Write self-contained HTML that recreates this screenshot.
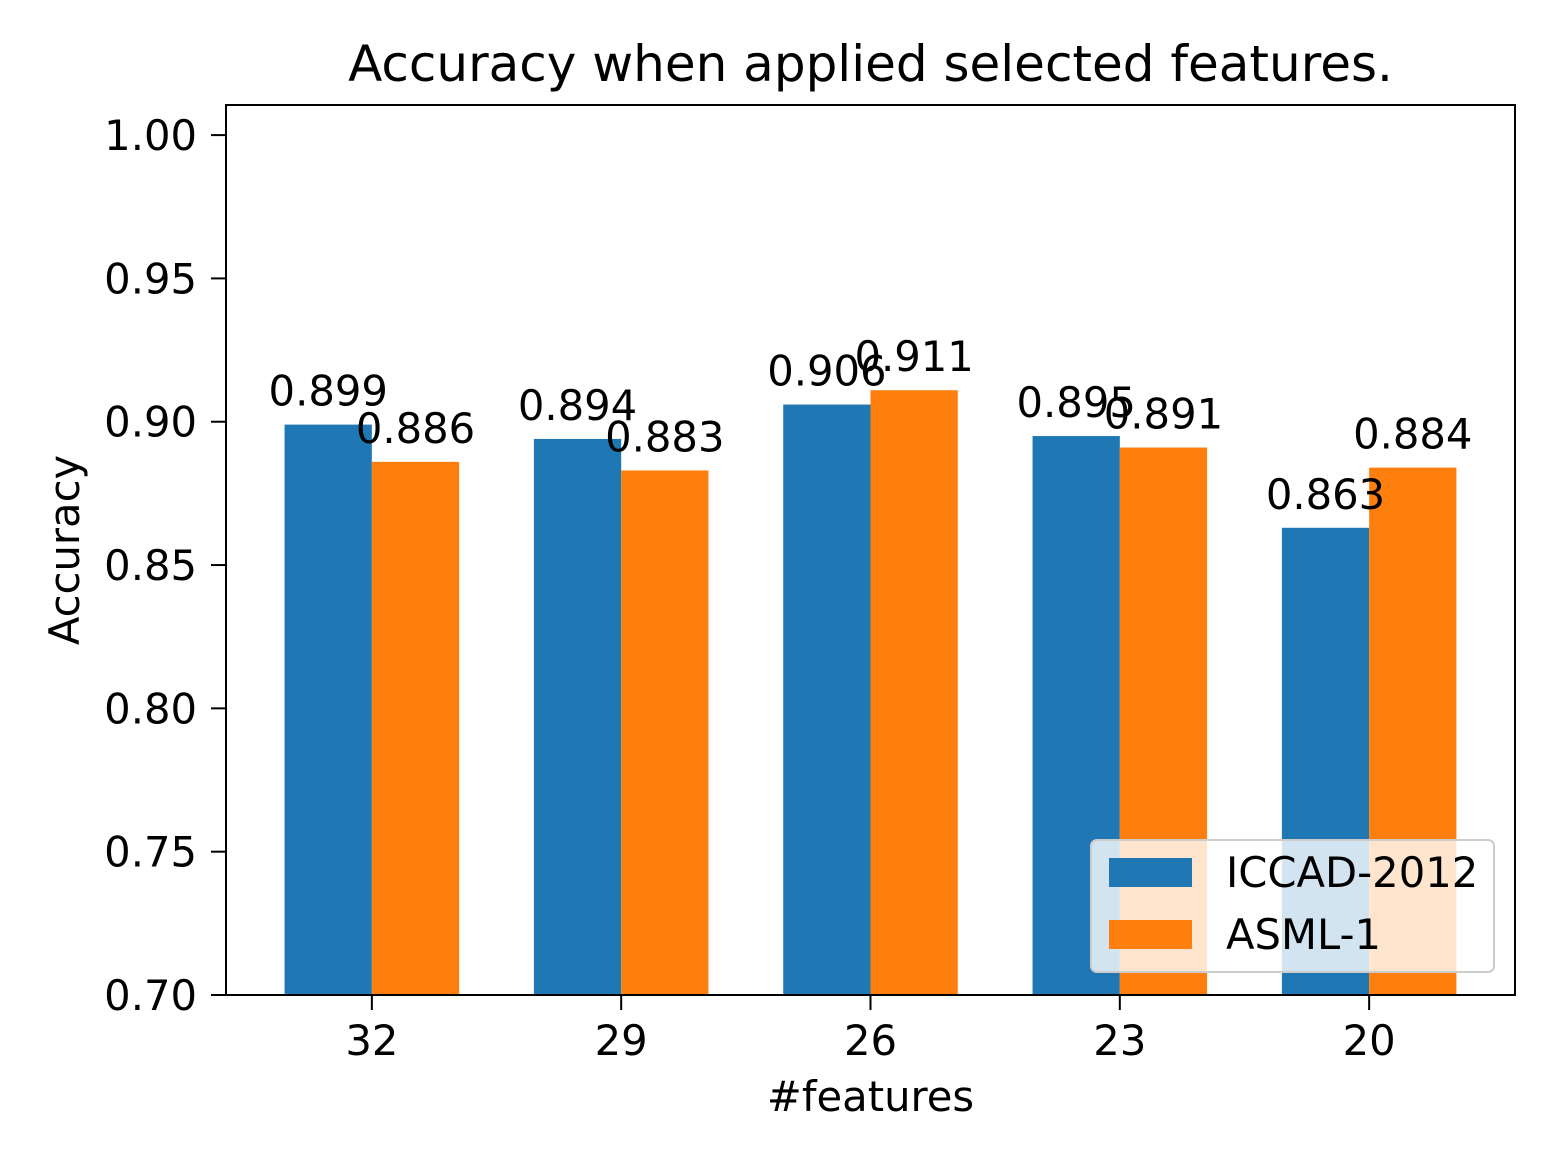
<!DOCTYPE html>
<html><head><meta charset="utf-8"><style>body{margin:0;background:#fff}svg{display:block;font-family:"DejaVu Sans","Liberation Sans",sans-serif}</style></head>
<body>
<svg id="chart" width="1560" height="1170" viewBox="0 0 1560 1170"></svg>
<script>
const categories=["32","29","26","23","20"];
const iccad=[0.899,0.894,0.906,0.895,0.863];
const asml=[0.886,0.883,0.911,0.891,0.884];
const yTicks=[0.70,0.75,0.80,0.85,0.90,0.95,1.00];
const yTickLabels=["0.70","0.75","0.80","0.85","0.90","0.95","1.00"];
const seriesNames=["ICCAD-2012","ASML-1"];
const L=226,R=1515,T=105,B=995;
const ymin=0.70,ymax=1.0105,xmin=-0.585,xmax=4.585;
const FS=41.7;
const sx=v=>L+(v-xmin)/(xmax-xmin)*(R-L);
const sy=v=>B-(v-ymin)/(ymax-ymin)*(B-T);
const svg=document.getElementById('chart');
const NS="http://www.w3.org/2000/svg";
function mk(tag,attrs,txt){const e=document.createElementNS(NS,tag);for(const k in attrs)e.setAttribute(k,attrs[k]);if(txt!==undefined)e.textContent=txt;svg.appendChild(e);return e;}
const w=0.35;
const colors=["#1f77b4","#ff7f0e"];
[iccad,asml].forEach((arr,s)=>{
  arr.forEach((v,i)=>{
    const x0=sx(i+(s===0?-w:0)),x1=sx(i+(s===0?0:w));
    const r=mk('rect',{x:x0,y:sy(v),width:x1-x0,height:B-sy(v),fill:colors[s]});
    
    
  });
});
[iccad,asml].forEach((arr,s)=>{
  arr.forEach((v,i)=>{
    const x0=sx(i+(s===0?-w:0)),x1=sx(i+(s===0?0:w));
    const t=mk('text',{x:(x0+x1)/2,y:sy(v)-19,'text-anchor':'middle','font-size':FS},v.toFixed(3));
    
    
  });
});
const fr=mk('rect',{x:L,y:T,width:R-L,height:B-T,fill:'none',stroke:'#000','stroke-width':2});


yTicks.forEach((v,i)=>{
  mk('line',{x1:L-15,x2:L,y1:sy(v),y2:sy(v),stroke:'#000','stroke-width':2});
  const t=mk('text',{x:L-29,y:sy(v)+15,'text-anchor':'end','font-size':FS},yTickLabels[i]);
  
  
});
categories.forEach((c,i)=>{
  mk('line',{x1:sx(i),x2:sx(i),y1:B,y2:B+15,stroke:'#000','stroke-width':2});
  const t=mk('text',{x:sx(i),y:B+60,'text-anchor':'middle','font-size':FS},c);
  
  
});
const xt=mk('text',{x:(L+R)/2,y:1111,'text-anchor':'middle','font-size':FS},'#features');


const yt=mk('text',{x:0,y:0,'text-anchor':'middle','font-size':FS,transform:'translate(79,550) rotate(-90)'},'Accuracy');


const tt=mk('text',{x:(L+R)/2,y:81,'text-anchor':'middle','font-size':50},'Accuracy when applied selected features.');


const lg=mk('rect',{x:1091,y:840,width:403,height:132,rx:6,fill:'rgba(255,255,255,0.8)',stroke:'#ccc','stroke-width':2});


seriesNames.forEach((n,s)=>{
  const y=858+s*62;
  mk('rect',{x:1109,y:y,width:83,height:29,fill:colors[s]});
  const t=mk('text',{x:1226,y:y+29,'font-size':FS},n);
  
  
});
</script>
</body></html>
